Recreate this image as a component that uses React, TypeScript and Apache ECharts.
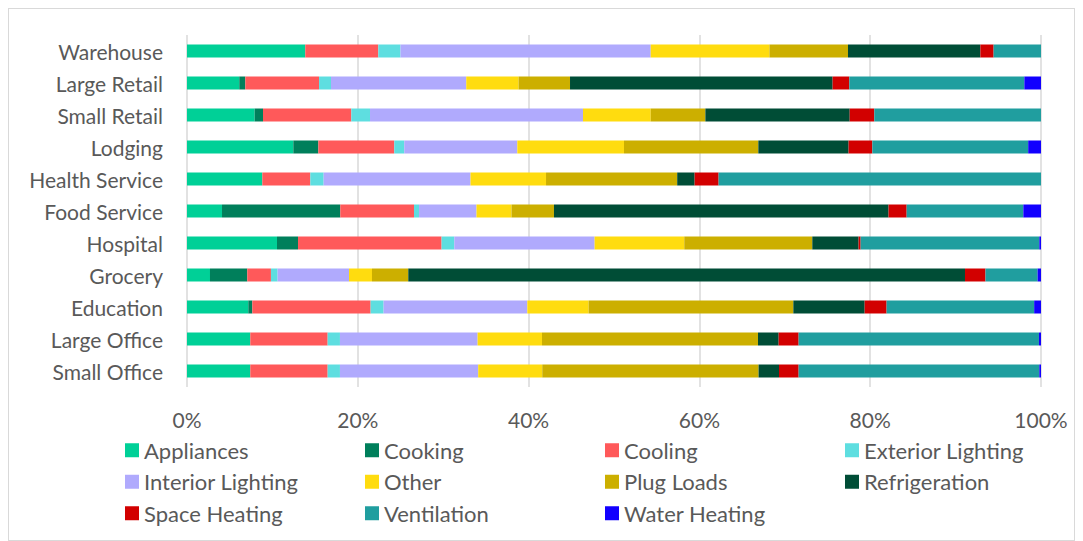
import React, { useEffect, useRef } from "react";
import * as echarts from "echarts";

// Building types, listed bottom-to-top as they appear on the category axis
const buildings = [
  "Small Office",
  "Large Office",
  "Education",
  "Grocery",
  "Hospital",
  "Food Service",
  "Health Service",
  "Lodging",
  "Small Retail",
  "Large Retail",
  "Warehouse",
];

// End-use shares (%) per building, same order as `buildings`
const appliances = [7.41, 7.41, 7.18, 2.69, 10.54, 4.1, 8.82, 12.45, 7.92, 6.12, 13.85];
const cooking = [0, 0, 0.47, 4.37, 2.46, 13.85, 0, 2.93, 0.98, 0.71, 0];
const cooling = [9.06, 9.06, 13.85, 2.77, 16.81, 8.63, 5.62, 8.89, 10.34, 8.63, 8.55];
const exteriorLighting = [1.44, 1.44, 1.52, 0.78, 1.49, 0.59, 1.56, 1.17, 2.19, 1.4, 2.6];
const interiorLighting = [16.19, 16.12, 16.83, 8.36, 16.43, 6.73, 17.2, 13.24, 24.94, 15.84, 29.3];
const other = [7.5, 7.54, 7.18, 2.69, 10.5, 4.1, 8.84, 12.49, 7.93, 6.13, 13.9];
const plugLoads = [25.33, 25.29, 23.97, 4.25, 14.99, 4.97, 15.36, 15.73, 6.4, 6.02, 9.2];
const refrigeration = [2.39, 2.42, 8.35, 65.19, 5.42, 39.18, 2.04, 10.57, 16.9, 30.75, 15.5];
const spaceHeating = [2.3, 2.34, 2.57, 2.4, 0.24, 2.12, 2.81, 2.78, 2.88, 1.95, 1.55];
const ventilation = [28.18, 28.14, 17.28, 6.1, 20.92, 13.66, 37.75, 18.25, 19.52, 20.5, 5.55];
const waterHeating = [0.2, 0.24, 0.8, 0.4, 0.2, 2.07, 0, 1.5, 0, 1.95, 0];

const xTicks = [0, 20, 40, 60, 80, 100];

const seriesDefs = [
  { name: "Appliances", data: appliances, color: "#00D097" },
  { name: "Cooking", data: cooking, color: "#007F5B" },
  { name: "Cooling", data: cooling, color: "#FF595A" },
  { name: "Exterior Lighting", data: exteriorLighting, color: "#5EDEE0" },
  { name: "Interior Lighting", data: interiorLighting, color: "#B0AAFD" },
  { name: "Other", data: other, color: "#FFDC0F" },
  { name: "Plug Loads", data: plugLoads, color: "#CCAF00" },
  { name: "Refrigeration", data: refrigeration, color: "#004D36" },
  { name: "Space Heating", data: spaceHeating, color: "#D20000" },
  { name: "Ventilation", data: ventilation, color: "#209E9F" },
  { name: "Water Heating", data: waterHeating, color: "#1200FF" },
];

// Legend laid out as four columns of up to three entries
const legendColumns = [
  ["Appliances", "Interior Lighting", "Space Heating"],
  ["Cooking", "Other", "Ventilation"],
  ["Cooling", "Plug Loads", "Water Heating"],
  ["Exterior Lighting", "Refrigeration"],
];

const FONT = "Lato, 'Open Sans', sans-serif";
const TEXT = "#595959";

export default function App() {
  const ref = useRef<HTMLDivElement>(null);

  useEffect(() => {
    if (!ref.current) return;
    const chart = echarts.init(ref.current, undefined, { renderer: "svg" });

    chart.setOption({
      animation: false,
      textStyle: { fontFamily: FONT, color: TEXT },
      grid: { left: 178, top: 26, width: 854, height: 352 },
      xAxis: {
        type: "value",
        min: 0,
        max: 100,
        interval: 20,
        axisLine: { show: false },
        axisTick: { show: false },
        splitLine: { show: true, lineStyle: { color: "#D9D9D9", width: 1.5 } },
        axisLabel: {
          margin: 22,
          fontSize: 21,
          color: TEXT,
          fontFamily: FONT,
          formatter: (v: number) => (xTicks.includes(v) ? `${v}%` : ""),
        },
      },
      yAxis: {
        type: "category",
        data: buildings,
        axisLine: { show: false },
        axisTick: { show: false },
        axisLabel: { margin: 24, fontSize: 21, color: TEXT, fontFamily: FONT },
      },
      legend: legendColumns.map((names, i) => ({
        data: names,
        orient: "vertical",
        left: 116 + i * 240,
        top: 430,
        icon: "rect",
        itemWidth: 14,
        itemHeight: 14,
        itemGap: 9,
        padding: 0,
        textStyle: { fontSize: 22, lineHeight: 22.5, color: TEXT, fontFamily: FONT, padding: [0, 0, 0, 0] },
        selectedMode: false,
      })),
      series: seriesDefs.map((s) => ({
        name: s.name,
        type: "bar",
        stack: "total",
        data: s.data,
        barWidth: 13,
        itemStyle: { color: s.color },
      })),
    });

    return () => chart.dispose();
  }, []);

  return (
    <div
      ref={ref}
      style={{
        width: 1067,
        height: 533,
        border: "1px solid #D9D9D9",
        boxSizing: "border-box",
        background: "#fff",
      }}
    />
  );
}
